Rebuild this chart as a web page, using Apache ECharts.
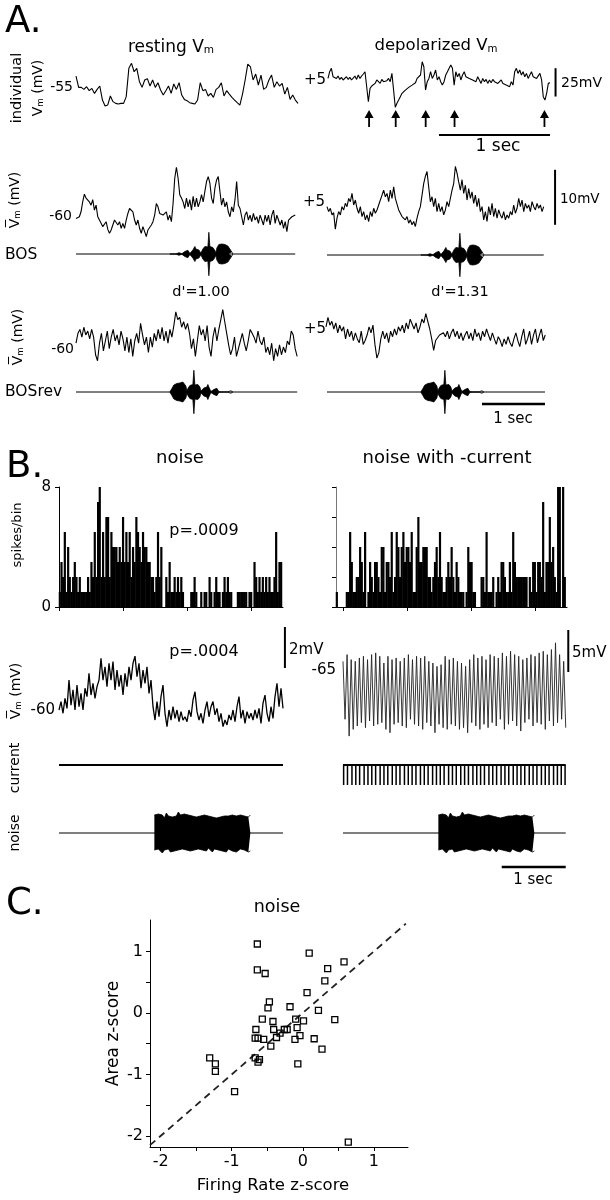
<!DOCTYPE html>
<html><head><meta charset="utf-8">
<script src="https://cdn.jsdelivr.net/npm/echarts@6/dist/echarts.min.js"></script>
<style>html,body{margin:0;padding:0;background:#fff}#c{width:610px;height:1200px}</style>
</head><body><div id="c"></div>
<script>
// ================= DATA =================
// A. individual Vm traces (mV), 2.0 s each
const restingVm = [-45.6,-55.6,-55.6,-57.4,-55.0,-58.5,-56.5,-60.9,-57.4,-54.4,
-66.8,-72.1,-71.2,-63.2,-68.2,-69.7,-70.3,-69.7,-69.7,-63.8,
-38.8,-34.4,-41.8,-38.8,-50.6,-55.6,-49.1,-47.9,-54.4,-49.1,
-55.6,-51.5,-57.9,-62.4,-58.5,-54.4,-60.9,-52.6,-57.4,-51.5,
-62.4,-66.2,-67.3,-69.1,-69.7,-70.3,-66.8,-51.5,-58.5,-57.4,
-63.2,-60.9,-64.4,-57.4,-55.6,-51.5,-63.2,-58.5,-61.5,-64.4,
-66.8,-69.1,-71.2,-61.5,-49.1,-35.0,-37.4,-49.1,-43.8,-53.5,
-44.7,-57.4,-55.6,-49.1,-44.7,-55.6,-50.6,-54.4,-52.1,-61.5,
-55.6,-66.2,-62.4,-66.8,-69.7];
const depolarizedVm = [3.5,9.4,12.4,5.0,6.5,3.5,5.6,2.6,4.4,2.1,
3.5,5.0,2.6,4.4,2.1,3.5,5.6,2.6,6.5,3.5,
5.6,7.4,9.4,10.9,-17.1,-5.3,-3.2,-2.1,-0.9,2.1,
0.6,-0.9,2.6,0.6,2.1,1.5,3.5,0.6,7.9,-6.8,
-22.0,-18.5,-15.6,-12.6,-9.7,-8.2,-6.8,-6.2,-4.4,-3.2,
-2.4,-0.9,-0.3,3.5,2.1,6.5,18.2,13.8,-6.8,0.6,
3.5,9.4,3.5,6.5,10.9,2.1,5.0,0.6,-2.4,0.6,
6.5,9.4,10.9,15.3,12.4,-2.4,9.4,5.0,7.9,2.1,
6.5,9.4,5.0,6.5,3.5,5.0,2.1,3.5,0.6,5.0,
2.1,-0.9,3.5,0.6,2.6,-0.9,2.1,-0.3,2.6,0.6,
2.1,-0.9,0.6,2.1,-0.9,0.6,-2.4,-0.9,-3.8,0.6,
-2.4,9.4,12.4,7.9,10.9,6.5,9.4,5.0,7.9,3.5,
6.5,9.4,5.0,6.5,3.5,5.0,7.9,2.1,-12.6,-15.6,
-9.7,-0.9,-0.3];
const spikeArrowTimes = [0.37,0.61,0.88,1.14,1.95]; // s

// A. mean Vm to BOS (mV)
const restingMeanBOS = [-60.2,-60.5,-59.9,-59.0,-57.2,-55.8,-56.5,-56.2,-57.2,-57.8,
-56.8,-58.7,-57.8,-59.9,-59.6,-61.1,-61.7,-62.0,-60.8,-62.2,
-62.9,-62.3,-61.4,-60.5,-60.2,-61.4,-60.8,-62.0,-61.1,-62.0,
-60.5,-59.3,-58.4,-58.7,-59.0,-60.5,-61.4,-60.5,-62.0,-62.9,
-61.7,-62.6,-63.5,-62.3,-62.0,-61.4,-60.8,-59.6,-57.5,-58.1,
-59.3,-59.0,-59.6,-59.9,-59.0,-60.5,-59.6,-60.8,-57.5,-52.9,
-50.9,-52.9,-55.9,-56.5,-57.2,-58.4,-56.5,-58.1,-56.8,-58.7,
-56.2,-58.1,-56.5,-58.1,-57.2,-55.9,-57.2,-55.3,-53.5,-52.6,
-53.8,-56.5,-57.5,-54.7,-53.2,-52.6,-55.3,-57.8,-56.5,-58.1,
-57.2,-59.0,-59.9,-58.1,-59.0,-56.8,-53.5,-57.8,-58.4,-59.9,
-61.4,-59.6,-59.0,-60.5,-59.6,-60.8,-59.3,-60.5,-59.9,-61.1,
-59.6,-60.5,-61.4,-59.6,-60.8,-59.6,-61.4,-59.6,-58.7,-61.1,
-59.6,-60.5,-61.4,-60.5,-62.0,-60.8,-62.6,-60.5,-60.2,-59.9,
-60.2,-59.6];
const depolMeanBOS = [5.3,4.4,5.0,3.8,4.2,1.2,3.2,4.4,3.8,5.3,
4.7,5.9,5.3,6.8,6.2,7.7,5.6,6.5,5.0,4.1,
5.3,3.5,4.4,2.9,3.8,2.6,4.4,3.5,5.0,4.1,
4.7,5.6,5.3,7.4,8.3,7.1,7.7,6.2,8.3,6.8,
8.9,6.8,6.5,4.7,4.4,3.5,3.8,2.9,3.5,2.3,
2.9,2.0,2.6,1.7,3.2,4.4,5.3,7.4,9.5,10.8,
11.7,8.9,6.2,7.1,5.3,6.8,4.4,5.9,4.4,5.3,
3.8,4.7,6.2,5.3,6.8,8.3,9.5,12.6,11.4,9.8,
8.3,10.2,7.7,9.2,6.5,8.6,6.8,8.0,5.9,7.4,
5.3,6.8,4.4,5.3,2.9,4.4,2.6,5.3,3.8,5.9,
3.5,5.0,3.2,4.7,3.8,3.2,4.4,2.9,3.8,3.2,
4.4,3.8,5.6,4.1,5.0,6.8,5.3,6.5,4.4,5.9,
5.0,5.6,4.4,6.2,5.3,4.7,5.9,5.0,5.6,4.4,
5.3];
// A. mean Vm to reversed BOS (mV)
const restingMeanRev = [-60.4,-58.6,-57.9,-59.3,-57.5,-58.9,-58.2,-59.6,-57.9,-59.3,
-62.5,-63.6,-60.4,-58.6,-61.8,-60.0,-58.2,-61.4,-59.3,-57.9,
-60.0,-58.9,-60.7,-58.2,-59.6,-61.8,-59.3,-62.1,-59.6,-62.8,
-60.0,-58.6,-60.4,-56.8,-58.9,-60.7,-59.3,-62.1,-59.3,-61.1,
-58.6,-60.0,-57.9,-59.6,-57.5,-60.0,-58.2,-60.4,-57.9,-59.3,
-57.2,-54.7,-56.1,-55.7,-57.5,-56.5,-57.9,-56.8,-58.6,-61.4,
-59.6,-62.8,-60.0,-57.2,-58.9,-57.9,-60.0,-57.2,-61.1,-62.8,
-59.3,-57.5,-60.0,-57.9,-56.1,-54.3,-56.5,-58.6,-60.7,-62.5,
-61.4,-59.3,-62.8,-61.4,-60.0,-58.6,-60.4,-61.8,-60.0,-57.9,
-58.6,-59.3,-60.4,-58.2,-60.0,-60.7,-59.3,-62.1,-61.1,-62.5,
-60.4,-63.6,-61.4,-62.8,-60.7,-62.5,-61.1,-62.1,-60.0,-60.7,
-58.2,-58.9,-61.4,-62.8];
const depolMeanRev = [5.4,7.1,5.7,6.4,5.0,6.1,4.3,5.7,4.6,5.4,
3.2,5.0,3.6,4.6,2.9,4.3,3.2,2.5,4.6,2.2,
2.9,3.9,5.4,4.3,5.7,2.2,-0.3,0.7,3.2,4.6,
3.2,4.3,2.5,4.6,3.6,5.0,3.9,5.4,4.6,5.7,
4.3,6.1,5.0,6.8,7.1,5.0,6.1,4.3,5.4,6.8,
6.1,7.8,6.4,5.0,3.2,1.1,2.9,3.2,3.9,3.6,
4.3,3.6,4.6,3.2,4.3,5.0,3.6,4.6,3.2,4.3,
2.9,3.9,4.6,3.2,4.3,2.9,5.0,3.6,4.3,2.9,
4.6,3.6,5.0,3.9,2.9,4.3,3.2,2.2,3.6,2.9,
1.8,3.2,2.2,3.6,2.5,1.8,3.2,4.3,2.9,1.8,
3.6,5.0,2.2,3.2,4.6,2.2,3.9,5.0,2.5,3.9,
5.0,2.9,3.9];
// BOS song amplitude envelope (a.u.), sampled at 63 Hz from onset
const bosEnvelope = [0,1.3,1.3,0,0,0,0,0,0,1.3,1.3,0,0.3,0.3,0.3,2.5,3.7,3.7,3.7,2.5,
0.5,0.5,0.5,4,5,7.5,5,4.5,5,4,2.5,0.8,1,5,7,7.5,7,7.5,7,21.7,
7.5,7,7.5,6.5,5,3.5,1,6,8,9.5,10,9.5,10,9,10,9.5,8.5,9,8,7,
5,3.5,2,0];

// B. spike histograms (spikes/bin)
const histNoise = [1,3,2,5,1,4,2,1,2,3, 2,1,2,1,1,1,1,2,1,3, 2,5,2,7,8,2,5,2,6,6,
2,5,4,4,4,3,4,3,6,3, 5,3,5,2,4,3,6,5,4,3, 5,4,4,3,3,2,2,1,2,5,
2,4,0,0,2,1,3,1,1,2, 1,2,1,2,1,0,0,0,0,1, 1,2,1,0,0,1,0,1,1,0,
2,1,0,1,2,1,1,0,1,2, 1,2,1,1,0,0,0,1,1,1, 1,1,1,0,1,1,0,3,2,1,
2,1,2,1,2,1,2,1,1,2, 5,1,3,3];
const histNoiseCurrent = [1,0,0,0,0,0,1,1,5,3, 1,1,2,2,4,3,1,5,0,1, 3,2,1,3,3,2,1,4,4,1,
3,3,2,5,1,2,5,4,2,4, 5,3,4,4,3,5,1,1,4,6, 3,3,4,4,4,2,2,1,2,3,
4,2,5,2,1,1,2,3,2,4, 2,1,3,2,1,1,1,0,1,4, 3,3,1,1,0,0,0,2,2,1,
5,1,1,1,2,0,1,2,1,3, 3,2,1,1,3,1,5,3,2,2, 2,2,2,2,2,0,2,1,3,3,
1,3,3,2,7,1,3,3,6,3, 4,2,1,8,8,0,8,2];
const histYTicks = [0, 8];

// B. mean Vm (mV)
const vmNoise = [-60.00,-59.59,-60.16,-59.43,-59.92,-58.54,-59.76,-59.02,-60.00,-58.78,
-59.84,-59.19,-60.00,-58.94,-59.35,-58.21,-59.27,-58.70,-59.43,-58.86,
-58.54,-57.48,-58.54,-57.89,-58.86,-57.72,-58.54,-57.64,-59.02,-58.05,
-58.86,-58.29,-59.27,-58.21,-58.86,-57.89,-58.54,-57.72,-57.37,-58.37,
-57.72,-58.94,-58.05,-58.70,-57.89,-59.19,-58.54,-59.84,-60.49,-59.59,
-60.33,-59.35,-58.78,-60.16,-60.81,-60.00,-60.49,-59.84,-60.41,-60.00,
-60.57,-60.08,-60.49,-60.33,-60.57,-60.00,-60.33,-59.51,-59.11,-60.08,
-60.49,-60.16,-60.65,-60.00,-59.59,-60.33,-59.84,-59.59,-60.24,-59.92,
-60.57,-60.16,-60.81,-60.49,-60.73,-60.24,-60.49,-60.00,-60.57,-59.84,
-59.35,-60.41,-60.00,-60.65,-60.08,-60.41,-60.16,-60.49,-60.00,-60.41,
-59.92,-60.65,-59.67,-59.27,-60.16,-60.57,-59.84,-60.41,-59.35,-58.70,
-59.84,-58.94,-59.92];
// B. Vm with -current: per-cycle peaks and troughs (mV)
const oscPeaks = [-64.8,-64.0,-64.6,-64.8,-64.4,-64.2,-64.6,-64.0,-63.8,-64.2,-65.0,-64.2,-64.6,-64.4,-64.8,-64.4,-64.0,-64.6,-64.2,-64.4,-64.2,-64.8,-65.0,-65.4,-65.2,-64.2,-64.6,-64.4,-64.8,-65.0,-65.4,-64.6,-64.0,-64.4,-64.2,-64.6,-64.0,-64.2,-64.4,-63.8,-64.2,-63.6,-64.0,-64.2,-64.6,-64.4,-64.0,-64.2,-63.8,-63.6,-64.0,-63.4,-62.6,-64.0,-64.8];
const oscTroughs = [-71.7,-73.7,-72.9,-72.5,-72.1,-72.7,-71.9,-72.5,-72.3,-72.1,-72.9,-73.3,-72.3,-72.1,-72.5,-72.7,-71.7,-72.3,-72.5,-72.9,-72.1,-72.5,-73.3,-72.3,-72.7,-72.9,-72.3,-72.5,-72.9,-72.7,-73.3,-72.1,-72.5,-72.9,-72.3,-72.7,-72.1,-72.5,-71.7,-72.9,-72.3,-71.9,-72.5,-73.1,-72.1,-71.7,-72.5,-72.1,-72.3,-72.9,-71.9,-72.5,-72.1,-71.7,-72.7];
// B. current pulse train (s) and amplitude (a.u.)
const currentPulseTimes = [0.01,0.07,0.14,0.20,0.26,0.33,0.39,0.45,0.51,0.58,0.64,0.70,0.77,0.83,0.89,0.96,1.02,1.08,1.14,1.21,1.27,1.33,1.40,1.46,1.52,1.58,1.65,1.71,1.77,1.84,1.90,1.96,2.03,2.09,2.15,2.21,2.28,2.34,2.40,2.47,2.53,2.59,2.66,2.72,2.78,2.84,2.91,2.97,3.03,3.10,3.16,3.22,3.29,3.35,3.41,3.47];
const currentPulseAmp = [-1];
// B. noise stimulus envelope (a.u.)
const noiseUpper = [18,16,19,17,18,15,20,17,19,16,18,17,21,18,16,19,17,18,16,17,19,16,18,17,15,18,16,17,19,16,18,15,17,16,18,17,15,17,16,18,16,17,15,18,16,17,19,16,18];
const noiseLower = [-17,-19,-16,-18,-20,-17,-18,-16,-19,-17,-18,-16,-17,-19,-16,-18,-17,-15,-18,-16,-17,-19,-16,-18,-17,-16,-18,-15,-17,-19,-16,-18,-17,-16,-18,-17,-19,-16,-17,-18,-16,-19,-17,-16,-18,-17,-16,-19,-18];

// C. scatter
const firingRateZ = [-0.64,0.09,0.58,0.35,-0.64,-0.53,0.31,0.06,-0.47,-0.49,-0.18,0.22,0.45,-0.57,-0.42,-0.10,0.01,-0.66,-0.41,-0.26,-0.22,-0.08,-0.32,-0.04,-0.67,-0.63,-0.55,-0.37,-0.11,0.16,-0.45,0.27,-0.67,-0.61,-0.63,-0.07,-1.31,-1.23,-1.23,-0.96,0.64];
const areaZ = [1.12,0.97,0.83,0.72,0.70,0.64,0.52,0.33,0.18,0.08,0.10,0.04,-0.11,-0.10,-0.14,-0.10,-0.13,-0.27,-0.27,-0.27,-0.27,-0.24,-0.33,-0.37,-0.41,-0.41,-0.43,-0.40,-0.43,-0.42,-0.54,-0.59,-0.73,-0.76,-0.80,-0.83,-0.73,-0.83,-0.95,-1.28,-2.10];
const zTickLabels = [-2, -1, 0, 1];
const zTicks = [-2, -1.5, -1, -0.5, 0, 0.5, 1];
const unityLine = [-2.15, 1.45];

// ================= LAYOUT / BUILD =================
const FONT = 'DejaVu Sans';
const grids = [], xAxis = [], yAxis = [], series = [], texts = [];
function addGrid(o) {
  const i = grids.length;
  grids.push({left: o.left, top: o.top, width: (o.xMax - o.xMin) * o.pxPerX, height: o.height, outerBoundsMode: 'none'});
  let yMin = o.yMin, yMax = o.yMax;
  if (yMin === undefined) {
    yMax = o.yBase + (o.yBasePx - o.top) / o.pxPerY;
    yMin = o.yBase - (o.top + o.height - o.yBasePx) / o.pxPerY;
  }
  xAxis.push(Object.assign({type: 'value', gridIndex: i, min: o.xMin, max: o.xMax, show: false}, o.x || {}));
  yAxis.push(Object.assign({type: 'value', gridIndex: i, min: yMin, max: yMax, show: false}, o.y || {}));
  return i;
}
function sampled(values, dur, t0) { t0 = t0 || 0; const dt = dur / (values.length - 1); return values.map((v, i) => [t0 + i * dt, v]); }
function line(gi, data, ls, extra) {
  series.push(Object.assign({type: 'line', xAxisIndex: gi, yAxisIndex: gi, data, symbol: 'none', showSymbol: false,
    clip: false, silent: true, animation: false, lineStyle: Object.assign({color: '#000', width: 1.1}, ls || {})}, extra || {}));
}
function area(gi, data) { line(gi, data, {width: 0.8}, {areaStyle: {color: '#000', opacity: 1, origin: 0}}); }
function bars(gi, data, w) {
  series.push({type: 'bar', xAxisIndex: gi, yAxisIndex: gi, data, barWidth: w, silent: true, animation: false, itemStyle: {color: '#000'}});
}
function txt(x, y, text, size, align, rot, sub) {
  const st = {text, fill: '#000', font: size + 'px "' + FONT + '"', fontSize: size, fontFamily: FONT,
    align: align || 'center', textAlign: align || 'center', verticalAlign: 'middle', textVerticalAlign: 'middle'};
  if (sub) st.rich = {a: {fontSize: size, fontFamily: FONT, fill: '#000', verticalAlign: 'bottom', lineHeight: size * 1.2},
                      s: {fontSize: size * 0.62, fontFamily: FONT, fill: '#000', verticalAlign: 'bottom', lineHeight: size * 0.45}};
  texts.push({type: 'text', x, y, rotation: rot || 0, silent: true, style: st});
}
const axisBlack = {color: '#000', width: 1};

// ---- A: individual traces ----
const durA1 = 2.0, pxSecA1 = 111, mvPxA1 = 1.133;
const gA1L = addGrid({left: 76, top: 55, height: 60, xMin: 0, xMax: durA1, pxPerX: pxSecA1, yBase: -55, yBasePx: 86.7, pxPerY: mvPxA1});
line(gA1L, sampled(restingVm, durA1));
const gA1R = addGrid({left: 328, top: 55, height: 85, xMin: 0, xMax: 2.1, pxPerX: pxSecA1, yBase: 5, yBasePx: 76.7, pxPerY: mvPxA1});
line(gA1R, sampled(depolarizedVm, durA1));
line(gA1R, [[1.0, -46.5], [2.0, -46.5]], {width: 2});
line(gA1R, [[2.05, -12.5], [2.05, 12.5]], {width: 2});
series.push({type: 'scatter', xAxisIndex: gA1R, yAxisIndex: gA1R, silent: true, animation: false,
  data: spikeArrowTimes.map(t => [t, -31.9]),
  symbol: 'path://M5,0 L10,8 L6,8 L6,17 L4,17 L4,8 L0,8 Z', symbolSize: [9, 17],
  itemStyle: {color: '#000', opacity: 1}});

// ---- A: mean Vm BOS ----
const pxSecA = 63, mvPxA = 5.5, durA = 3.48;
const gA2L = addGrid({left: 76, top: 160, height: 80, xMin: 0, xMax: durA, pxPerX: pxSecA, yBase: -60, yBasePx: 217.3, pxPerY: mvPxA});
line(gA2L, sampled(restingMeanBOS, durA));
const gA2R = addGrid({left: 327, top: 160, height: 80, xMin: 0, xMax: 3.7, pxPerX: pxSecA, yBase: 5, yBasePx: 208.3, pxPerY: mvPxA});
line(gA2R, sampled(depolMeanBOS, 3.44));
line(gA2R, [[3.62, 2], [3.62, 12]], {width: 2});
const bosOnset = 1.49, bosDt = 1 / 63;
const bosRev = bosEnvelope.slice().reverse();
function stim(gi, env, dur) {
  line(gi, [[0, 0], [dur, 0]], {width: 1});
  area(gi, env.map((a, i) => [bosOnset + i * bosDt, a]));
  area(gi, env.map((a, i) => [bosOnset + i * bosDt, -a]));
}
const gBL = addGrid({left: 76, top: 226, height: 56, xMin: 0, xMax: durA, pxPerX: pxSecA, yBase: 0, yBasePx: 254, pxPerY: 1});
stim(gBL, bosEnvelope, durA);
const gBR = addGrid({left: 327, top: 226, height: 56, xMin: 0, xMax: durA, pxPerX: pxSecA, yBase: 0, yBasePx: 255, pxPerY: 1});
stim(gBR, bosEnvelope, 3.44);

// ---- A: mean Vm BOSrev ----
const gA3L = addGrid({left: 76, top: 300, height: 70, xMin: 0, xMax: 3.52, pxPerX: pxSecA, yBase: -60, yBasePx: 341, pxPerY: mvPxA});
line(gA3L, sampled(restingMeanRev, 3.51));
const gA3R = addGrid({left: 326, top: 300, height: 70, xMin: 0, xMax: 3.5, pxPerX: pxSecA, yBase: 5, yBasePx: 329, pxPerY: mvPxA});
line(gA3R, sampled(depolMeanRev, 3.48));
const gRL = addGrid({left: 76, top: 362, height: 60, xMin: 0, xMax: 3.52, pxPerX: pxSecA, yBase: 0, yBasePx: 392, pxPerY: 1});
stim(gRL, bosRev, 3.51);
const gRR = addGrid({left: 327, top: 362, height: 60, xMin: 0, xMax: 3.5, pxPerX: pxSecA, yBase: 0, yBasePx: 392, pxPerY: 1});
stim(gRR, bosRev, 3.46);
line(gRR, [[2.46, -12], [3.46, -12]], {width: 2.5});

// ---- B: histograms ----
const pxSecB = 64, bin = 0.026;
const histX = {show: true, axisLine: {show: true, onZero: false, lineStyle: axisBlack},
  axisTick: {show: true, customValues: [0, 1, 2, 3], length: 4, lineStyle: axisBlack}, axisLabel: {show: false}, splitLine: {show: false}};
const gHL = addGrid({left: 59, top: 487, height: 120, xMin: 0, xMax: 3.5, pxPerX: pxSecB, yMin: 0, yMax: 8,
  x: histX,
  y: {show: true, axisLine: {show: true, onZero: false, lineStyle: axisBlack},
      axisTick: {show: true, customValues: histYTicks, length: 4, lineStyle: axisBlack},
      axisLabel: {show: true, customValues: histYTicks, color: '#000', fontSize: 15, fontFamily: FONT, margin: 8},
      splitLine: {show: false}}});
bars(gHL, histNoise.map((c, i) => [(i + 0.5) * bin, c]), 2.2);
const gHR = addGrid({left: 336, top: 487, height: 120, xMin: -0.11, xMax: 3.5, pxPerX: pxSecB, yMin: 0, yMax: 8,
  x: histX,
  y: {show: true, axisLine: {show: true, onZero: false, lineStyle: {color: '#777', width: 1}},
      axisTick: {show: true, customValues: [0, 2, 4, 6, 8], length: 4, lineStyle: axisBlack},
      axisLabel: {show: false}, splitLine: {show: false}}});
bars(gHR, histNoiseCurrent.map((c, i) => [-0.11 + (i + 0.5) * bin, c]), 2.2);

// ---- B: Vm ----
const gVL = addGrid({left: 59, top: 620, height: 115, xMin: 0, xMax: 3.6, pxPerX: pxSecB, yBase: -60, yBasePx: 710, pxPerY: 20.5});
line(gVL, sampled(vmNoise, 3.5), {width: 1.3});
line(gVL, [[3.53, -57.95], [3.53, -55.95]], {width: 2});
const osc = [];
oscPeaks.forEach((p, i) => { osc.push(p); osc.push(oscTroughs[i]); });
const gVR = addGrid({left: 343, top: 620, height: 120, xMin: 0, xMax: 3.6, pxPerX: pxSecB, yBase: -65, yBasePx: 663, pxPerY: 8.4});
line(gVR, sampled(osc, 3.48), {width: 0.9, color: '#222'});
line(gVR, [[3.52, -66.07], [3.52, -61.07]], {width: 2});

// ---- B: current ----
const gCL = addGrid({left: 59, top: 755, height: 40, xMin: 0, xMax: 3.5, pxPerX: pxSecB, yBase: 0, yBasePx: 765, pxPerY: 20});
line(gCL, [[0, 0], [3.5, 0]], {width: 2});
const gCR = addGrid({left: 343, top: 755, height: 40, xMin: 0, xMax: 3.5, pxPerX: pxSecB, yBase: 0, yBasePx: 765, pxPerY: 20});
line(gCR, [[0, 0], [3.48, 0]], {width: 2});
bars(gCR, currentPulseTimes.map(t => [t, currentPulseAmp[0]]), 1.5);

// ---- B: noise stimulus ----
const noiseOnset = 1.49, noiseDur = 1.5;
function noiseStim(gi, dur) {
  line(gi, [[0, 0], [dur, 0]], {width: 1});
  area(gi, sampled(noiseUpper, noiseDur, noiseOnset));
  area(gi, sampled(noiseLower, noiseDur, noiseOnset));
}
const gNL = addGrid({left: 59, top: 805, height: 56, xMin: 0, xMax: 3.5, pxPerX: pxSecB, yBase: 0, yBasePx: 833, pxPerY: 1});
noiseStim(gNL, 3.5);
const gNR = addGrid({left: 343, top: 805, height: 70, xMin: 0, xMax: 3.5, pxPerX: pxSecB, yBase: 0, yBasePx: 833, pxPerY: 1});
noiseStim(gNR, 3.48);
line(gNR, [[2.48, -34], [3.48, -34]], {width: 2.5});

// ---- C: scatter ----
const zAxisCommon = {show: true, axisLine: {show: true, onZero: false, lineStyle: axisBlack},
  axisTick: {show: true, customValues: zTicks, length: 4, lineStyle: axisBlack},
  splitLine: {show: false}, nameLocation: 'middle'};
const gS = addGrid({left: 150, top: 920, height: 227, xMin: -2.15, xMax: 1.48, pxPerX: 71.07, yMin: -2.18, yMax: 1.51,
  x: Object.assign({}, zAxisCommon, {axisLabel: {show: true, customValues: zTickLabels, color: '#000', fontSize: 16, fontFamily: FONT, margin: 7},
    name: 'Firing Rate z-score', nameGap: 30, nameTextStyle: {color: '#000', fontSize: 16.5, fontFamily: FONT, padding: [0, 12, 0, 0]}}),
  y: Object.assign({}, zAxisCommon, {axisLabel: {show: true, customValues: zTickLabels, color: '#000', fontSize: 16, fontFamily: FONT, margin: 7},
    name: 'Area z-score', nameGap: 28, nameRotate: 90, nameTextStyle: {color: '#000', fontSize: 17, fontFamily: FONT}})});
series.push({type: 'line', xAxisIndex: gS, yAxisIndex: gS, data: unityLine.map(v => [v, v]), symbol: 'none', silent: true, animation: false,
  lineStyle: {color: '#222', width: 1.8, type: [7, 5]}, z: 2});
series.push({type: 'scatter', xAxisIndex: gS, yAxisIndex: gS, data: firingRateZ.map((x, i) => [x, areaZ[i]]), symbol: 'rect', symbolSize: 6,
  silent: true, animation: false, itemStyle: {color: 'rgba(0,0,0,0)', borderColor: '#000', borderWidth: 1.3, opacity: 1}, z: 3});

// ---- text ----
const R = Math.PI / 2;
txt(5, 22, 'A.', 37, 'left');
txt(171, 46, '{a|resting V}{s|m}', 17, 'center', 0, true);
txt(436, 44, '{a|depolarized V}{s|m}', 16.5, 'center', 0, true);
txt(17, 88, 'individual', 14.5, 'center', R);
txt(37, 88, '{a|V}{s|m}{a| (mV)}', 14, 'center', R, true);
txt(73, 87, '-55', 14, 'right');
txt(326, 80, '+5', 15, 'right');
txt(561, 83, '25mV', 14, 'left');
txt(498, 147, '1 sec', 17);
txt(14, 200, '{a|V\u0305}{s|m}{a| (mV)}', 14, 'center', R, true);
txt(72, 216, '-60', 14, 'right');
txt(5, 255, 'BOS', 15.5, 'left');
txt(325, 202, '+5', 15, 'right');
txt(560, 199, '10mV', 13.5, 'left');
txt(201, 292, "d'=1.00", 14.5);
txt(460, 292, "d'=1.31", 14.5);
txt(17, 337, '{a|V\u0305}{s|m}{a| (mV)}', 14, 'center', R, true);
txt(74, 349, '-60', 14, 'right');
txt(326, 329, '+5', 15, 'right');
txt(5, 392, 'BOSrev', 15.5, 'left');
txt(513, 419, '1 sec', 15);
txt(6, 467, 'B.', 37, 'left');
txt(180, 458, 'noise', 18);
txt(447, 458, 'noise with -current', 18);
txt(18, 535, 'spikes/bin', 13, 'center', R);
txt(204, 531, 'p=.0009', 16);
txt(204, 652, 'p=.0004', 16);
txt(289, 650, '2mV', 15, 'left');
txt(572, 653, '5mV', 15, 'left');
txt(336, 670, '-65', 15, 'right');
txt(55, 710, '-60', 15, 'right');
txt(15, 691, '{a|V\u0305}{s|m}{a| (mV)}', 14, 'center', R, true);
txt(15, 768, 'current', 14, 'center', R);
txt(15, 833, 'noise', 14, 'center', R);
txt(533, 880, '1 sec', 15);
txt(6, 904, 'C.', 37, 'left');
txt(277, 907, 'noise', 17.5);

const chart = echarts.init(document.getElementById('c'), null, {renderer: 'canvas', width: 610, height: 1200});
chart.setOption({animation: false, backgroundColor: '#fff', grid: grids, xAxis, yAxis, series, graphic: {elements: texts}});
</script></body></html>
